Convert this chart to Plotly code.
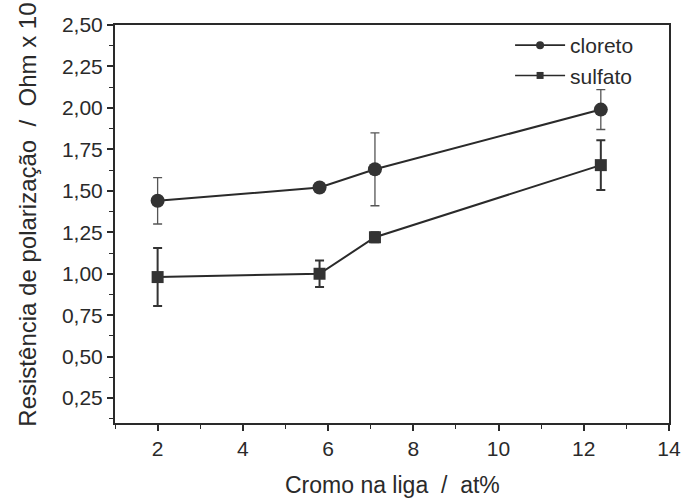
import plotly.graph_objects as go

cromo = [2.0, 5.8, 7.1, 12.4]
cloreto = [1.44, 1.52, 1.63, 1.99]
cloreto_err = [0.14, 0.02, 0.22, 0.12]
sulfato = [0.98, 1.00, 1.22, 1.655]
sulfato_err = [0.175, 0.08, 0.03, 0.15]

x_ticks = [2, 4, 6, 8, 10, 12, 14]
y_ticks = [0.25, 0.50, 0.75, 1.00, 1.25, 1.50, 1.75, 2.00, 2.25, 2.50]
y_labels = ["0,25", "0,50", "0,75", "1,00", "1,25", "1,50", "1,75", "2,00", "2,25", "2,50"]

ink = "#2a2a2a"
font = "Liberation Sans, Arial, sans-serif"

fig = go.Figure()
fig.add_trace(go.Scatter(
    x=cromo, y=cloreto, name="cloreto", mode="lines+markers", showlegend=False,
    line=dict(color=ink, width=2),
    marker=dict(symbol="circle", size=14, color="#333333"),
    error_y=dict(type="data", array=cloreto_err, color="#555555", thickness=1.3, width=4.5),
))
fig.add_trace(go.Scatter(
    x=cromo, y=sulfato, name="sulfato", mode="lines+markers", showlegend=False,
    line=dict(color=ink, width=2),
    marker=dict(symbol="square", size=12, color="#333333"),
    error_y=dict(type="data", array=sulfato_err, color="#333333", thickness=2, width=4.5),
))
# legend-only entries with small markers, as in the reference
fig.add_trace(go.Scatter(
    x=[None], y=[None], name="cloreto", mode="lines+markers",
    line=dict(color=ink, width=1.6), marker=dict(symbol="circle", size=8, color="#333333"),
))
fig.add_trace(go.Scatter(
    x=[None], y=[None], name="sulfato", mode="lines+markers",
    line=dict(color=ink, width=1.6), marker=dict(symbol="square", size=7, color="#333333"),
))

fig.update_layout(
    width=682, height=500,
    margin=dict(l=115, r=13, t=25, b=77),
    paper_bgcolor="white", plot_bgcolor="white",
    font=dict(family=font, size=21, color=ink),
    showlegend=True,
    legend=dict(x=0.946, y=1.0, xanchor="right", yanchor="top",
                bgcolor="rgba(0,0,0,0)", font=dict(size=21, color=ink),
                tracegroupgap=0, itemwidth=50),
    xaxis=dict(
        range=[1, 14], tickvals=x_ticks, ticks="outside", ticklen=6, tickwidth=1.5,
        tickcolor=ink, showline=True, linecolor=ink, linewidth=2, mirror=True,
        showgrid=False, zeroline=False, automargin=False,
        minor=dict(ticks="outside", ticklen=4, tickwidth=1.2, tickcolor=ink, dtick=1, showgrid=False),
        tickfont=dict(size=21),
    ),
    yaxis=dict(
        range=[0.1, 2.5], tickvals=y_ticks, ticktext=y_labels, ticks="outside", ticklen=6,
        tickwidth=1.5, tickcolor=ink, showline=True, linecolor=ink, linewidth=2, mirror=True,
        showgrid=False, zeroline=False, automargin=False,
        minor=dict(ticks="outside", ticklen=4, tickwidth=1.2, tickcolor=ink, dtick=0.125, tick0=0.125, showgrid=False),
        tickfont=dict(size=21),
    ),
    annotations=[
        dict(
            text="Resistência de polarização  /  Ohm x 10",
            xref="paper", yref="paper", x=-0.158, y=-0.013,
            xanchor="center", yanchor="bottom", textangle=-90,
            showarrow=False, font=dict(size=24, color=ink),
        ),
        dict(
            text="Cromo na liga  /  at%",
            xref="paper", yref="paper", x=0.5, y=-0.155,
            xanchor="center", yanchor="middle",
            showarrow=False, font=dict(size=23, color=ink),
        ),
    ],
)

fig.write_html("out.html")
